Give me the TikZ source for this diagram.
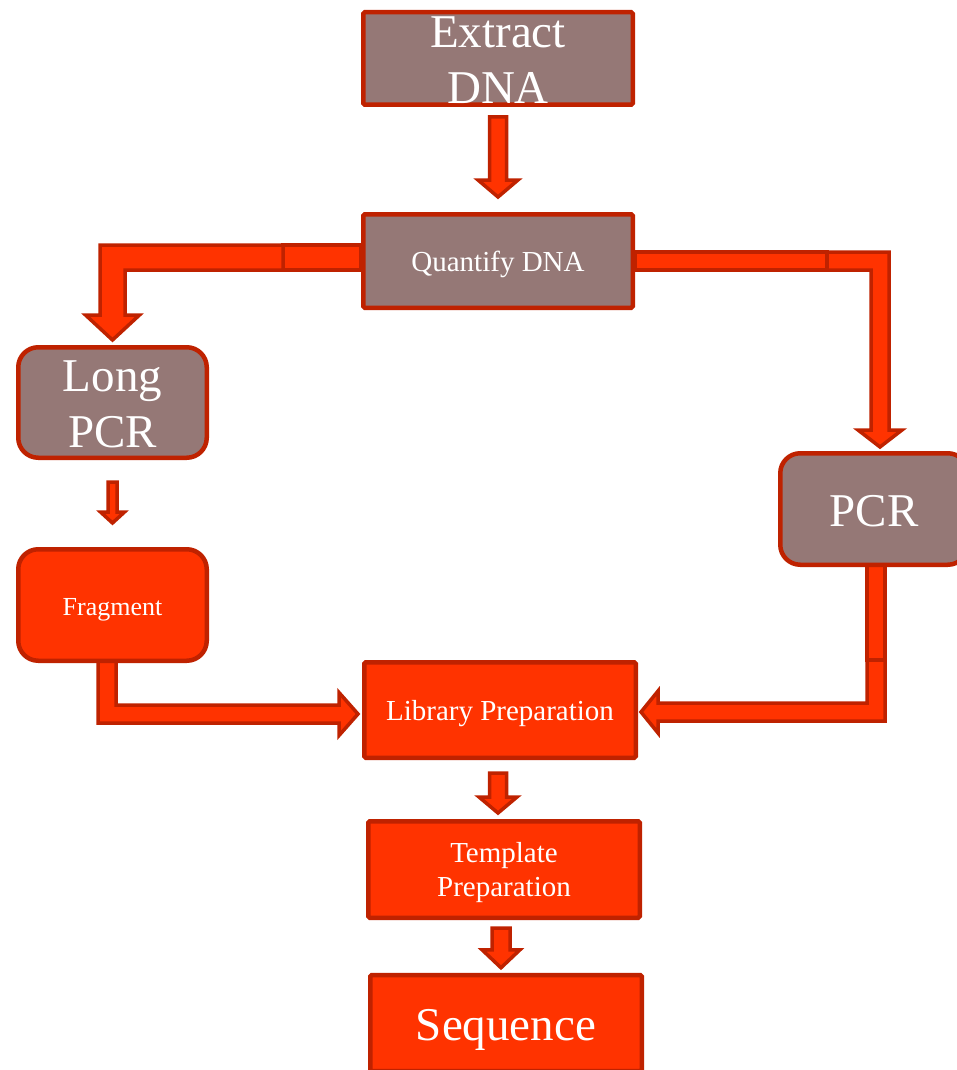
\documentclass[tikz,border=0pt]{standalone}
\usepackage{fontspec}
\setmainfont{Liberation Serif}
\usetikzlibrary{calc}

\definecolor{mauve}{HTML}{957876}
\definecolor{edge}{HTML}{BF2200}
\definecolor{flame}{HTML}{FF3300}

\pgfdeclarelayer{bg}
\pgfsetlayers{bg,main}

% straight block arrow pointing down: start (top centre), tip, shaft half width, head half width, head length
\newcommand{\downblock}[5]{%
  \draw[blockarrow] ($(#1)+(-#3,0)$) -- ($(#2)+(-#3,-#5)$) -- ($(#2)+(-#4,-#5)$) -- (#2)
    -- ($(#2)+(#4,-#5)$) -- ($(#2)+(#3,-#5)$) -- ($(#1)+(#3,0)$) -- cycle;}
% invisible strut that sets the height of a first text line
\newcommand{\firstline}[1]{\rule{0pt}{#1pt}}

\tikzset{
  box/.style={draw=edge, line width=4.5pt, inner sep=0pt, align=center, text=white,
              font=\fontsize{29}{34}\selectfont},
  greybox/.style={box, fill=mauve},
  redbox/.style={box, fill=flame},
  sharp/.style={rounded corners=1.5pt},
  soft/.style={rounded corners=20pt},
  bigtext/.style={font=\fontsize{47}{56}\selectfont},
  baseline below/.style={text depth=2pt, text height={2pt+2*#1}},
  blockarrow/.style={draw=edge, fill=flame, line width=3.5pt, line join=miter},
}

\begin{document}
\begin{tikzpicture}[x=1pt,y=-1pt]
\clip (0,0) rectangle (957,1070);

% process steps
\node[greybox, sharp, bigtext, minimum width=269.5, minimum height=92.5] (ext) at (498,58.5) {\firstline{35}Extract\\DNA};
\node[greybox, sharp, baseline below=10, minimum width=269.5, minimum height=93.5] (quant) at (498,261) {Quantify DNA};
\node[greybox, soft, bigtext, minimum width=188.5, minimum height=110.5] (long) at (112.5,402.5) {\firstline{35}Long\\PCR};
\node[redbox, soft, font=\fontsize{26}{30}\selectfont, baseline below=10, minimum width=188.5, minimum height=111.5] (frag) at (112.5,605) {Fragment};
\node[greybox, soft, bigtext, baseline below=17, minimum width=187.5, minimum height=111.5] (pcr) at (874,509) {PCR};
\node[redbox, sharp, baseline below=10.5, minimum width=271.5, minimum height=95.5] (lib) at (500,710) {Library Preparation};
\node[redbox, sharp, minimum width=271.5, minimum height=96.5] (tmpl) at (504,869.5) {\firstline{27}Template\\Preparation};
\node[redbox, sharp, bigtext, baseline below=17, minimum width=271.5, minimum height=96] (seq) at (506,1023) {Sequence};

\begin{pgfonlayer}{bg}
% straight arrows
\coordinate (a1) at ($(ext.south)+(0,10)$);
\coordinate (a2) at ($(quant.north)+(0,-15)$);
\downblock{a1}{a2}{8.5}{20}{17}

\coordinate (b1) at ($(long.south)+(0,22)$);
\coordinate (b2) at ($(frag.north)+(0,-24)$);
\downblock{b1}{b2}{4.5}{12}{11}

\coordinate (c1) at ($(lib.south)+(-2,13)$);
\coordinate (c2) at ($(c1 |- tmpl.north)+(0,-6)$);
\downblock{c1}{c2}{8.5}{19}{16}

\coordinate (d1) at ($(tmpl.south)+(-3,8)$);
\coordinate (d2) at ($(d1 |- seq.north)+(0,-5)$);
\downblock{d1}{d2}{9}{19}{18}

% Quantify DNA -> Long PCR
\coordinate (qL) at ($(quant.west)+(0,-3.5)$);
\coordinate (lT) at (long.north);
\draw[blockarrow] ($(qL)+(-78,-12.5)$) rectangle ($(qL)+(0,12.5)$);
\draw[blockarrow] ($(qL)+(-78,-12.5)$) -- ($(qL -| lT)+(-12.5,-12.5)$) -- ($(lT)+(-12.5,-30)$)
  -- ($(lT)+(-27,-30)$) -- ($(lT)+(0,-5)$) -- ($(lT)+(27,-30)$) -- ($(lT)+(12.5,-30)$)
  -- ($(qL -| lT)+(12.5,12.5)$) -- ($(qL)+(-78,12.5)$) -- cycle;

% Quantify DNA -> PCR
\coordinate (qR) at (quant.east);
\coordinate (pT) at ($(pcr.north)+(6,0)$);
\draw[blockarrow] ($(qR)+(0,-9)$) rectangle ($(qR)+(192,9)$);
\draw[blockarrow] ($(qR)+(192,-9)$) -- ($(qR -| pT)+(9,-9)$) -- ($(pT)+(9,-21)$)
  -- ($(pT)+(22,-21)$) -- ($(pT)+(0,-4)$) -- ($(pT)+(-22,-21)$) -- ($(pT)+(-9,-21)$)
  -- ($(qR -| pT)+(-9,9)$) -- ($(qR)+(192,9)$) -- cycle;

% Fragment -> Library Preparation
\coordinate (fB) at ($(frag.south)+(-5.5,0)$);
\coordinate (lW) at ($(lib.west)+(0,4)$);
\draw[blockarrow] ($(fB)+(-9,-2)$) -- ($(fB)+(9,-2)$) -- ($(fB |- lW)+(9,-9)$)
  -- ($(lW)+(-23,-9)$) -- ($(lW)+(-23,-21.5)$) -- ($(lW)+(-4,0)$) -- ($(lW)+(-23,21.5)$)
  -- ($(lW)+(-23,9)$) -- ($(fB |- lW)+(-9,9)$) -- cycle;

% PCR -> Library Preparation
\coordinate (pB) at ($(pcr.south)+(2,0)$);
\coordinate (lE) at ($(lib.east)+(0,2)$);
\draw[blockarrow] ($(pB)+(-9,-2)$) rectangle ($(pB)+(9,93)$);
\draw[blockarrow] ($(pB)+(9,93)$) -- ($(pB |- lE)+(9,9)$) -- ($(lE)+(20,9)$)
  -- ($(lE)+(20,21)$) -- ($(lE)+(3,0)$) -- ($(lE)+(20,-21)$) -- ($(lE)+(20,-9)$)
  -- ($(pB |- lE)+(-9,-9)$) -- ($(pB)+(-9,93)$) -- cycle;
\end{pgfonlayer}
\end{tikzpicture}
\end{document}
